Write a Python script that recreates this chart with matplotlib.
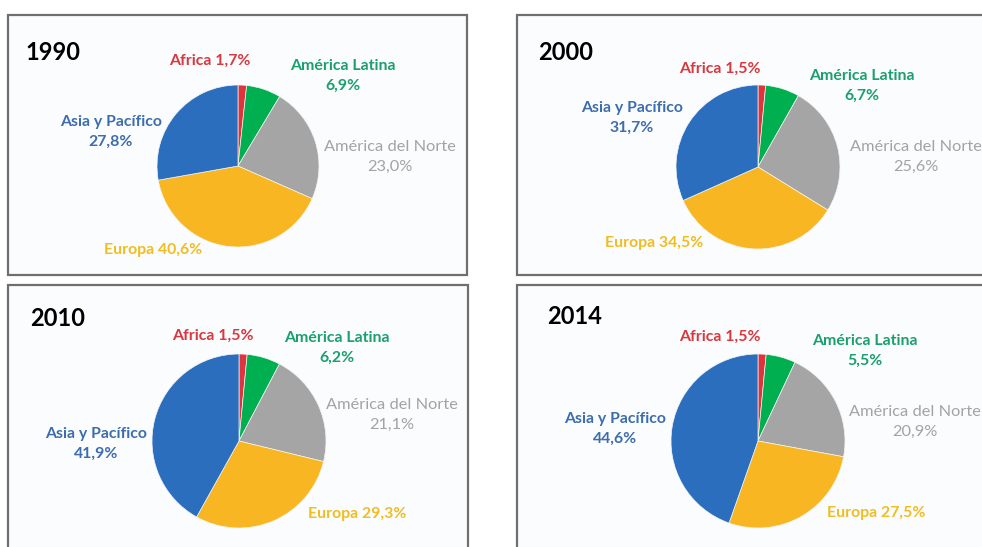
import matplotlib
matplotlib.use("Agg")
import matplotlib.pyplot as plt
from matplotlib.patches import Rectangle

plt.rcParams["font.family"] = ["Lato", "DejaVu Sans"]

# Data: share by region (%) for each year
years = ["1990", "2000", "2010", "2014"]
regions = ["Africa", "América Latina", "América del Norte", "Europa", "Asia y Pacífico"]
africa = [1.7, 1.5, 1.5, 1.5]
america_latina = [6.9, 6.7, 6.2, 5.5]
america_norte = [23.0, 25.6, 21.1, 20.9]
europa = [40.6, 34.5, 29.3, 27.5]
asia_pacifico = [27.8, 31.7, 41.9, 44.6]

slice_colors = ["#e0343c", "#00b050", "#a5a5a5", "#f8b722", "#2a6ebd"]
label_colors = ["#d8383e", "#1b9f6c", "#a3a3a3", "#f0bd22", "#3e6dae"]

W, H = 982, 547
fig = plt.figure(figsize=(W / 100, H / 100), dpi=100)
ax = fig.add_axes([0, 0, 1, 1])

def Y(y):
    # image pixel row -> axes y
    return H - y

# panel layout (image pixel coords)
panels = [
    dict(box=(8, 15, 459, 260), center=(238, 166), r=81, year=(53, 52),
         lab=[(210, 61), (343, 76), (390, 157), (153, 250), (111, 132)]),
    dict(box=(517, 15, 480, 260), center=(758, 167), r=82, year=(566, 52),
         lab=[(720, 69), (862, 86), (916, 157), (654, 243), (632, 118)]),
    dict(box=(8, 285, 460, 280), center=(239, 441), r=87, year=(58, 319),
         lab=[(213, 336), (337, 348), (392, 415), (357, 514), (96, 444)]),
    dict(box=(517, 285, 480, 280), center=(758, 441), r=87, year=(575, 317),
         lab=[(720, 337), (865, 351), (915, 422), (876, 513), (615, 429)]),
]

for i, p in enumerate(panels):
    bx, by, bw, bh = p["box"]
    ax.add_patch(Rectangle((bx, Y(by + bh)), bw, bh, facecolor="#fbfcfd",
                           edgecolor="#6f6f6f", linewidth=1.6, zorder=0))
    vals = [africa[i], america_latina[i], america_norte[i], europa[i], asia_pacifico[i]]
    cx, cy = p["center"]
    ax.pie(vals, colors=slice_colors, startangle=90, counterclock=False,
           center=(cx, Y(cy)), radius=p["r"], frame=True,
           wedgeprops=dict(linewidth=0.5, edgecolor="#f4f4f4"))
    ax.text(p["year"][0], Y(p["year"][1]), years[i], fontsize=17,
            fontweight="bold", color="black", ha="center", va="center")
    for j, (lx, ly) in enumerate(p["lab"]):
        v = f"{vals[j]:.1f}%".replace(".", ",")
        if j in (0, 3):
            txt = f"{regions[j]} {v}"
        else:
            txt = f"{regions[j]}\n{v}"
        ax.text(lx, Y(ly), txt, fontsize=11.8 if j == 2 else 11.4,
                color=label_colors[j],
                fontweight="normal" if j == 2 else "bold",
                ha="center", va="center", linespacing=1.55)

ax.set_xlim(0, W)
ax.set_ylim(0, H)
ax.set_aspect("equal")
ax.axis("off")

fig.savefig("out.png", dpi=100, facecolor="white")
